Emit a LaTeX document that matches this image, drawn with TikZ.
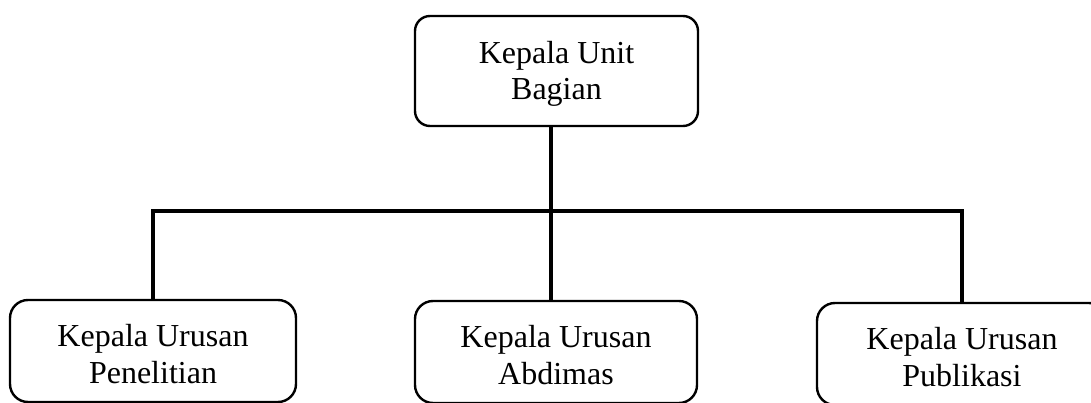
\documentclass[tikz,border=0pt]{standalone}
\usepackage{fontspec}
\setmainfont{Liberation Serif}
\begin{document}
\begin{tikzpicture}[x=1pt,y=-1pt,
  unitbox/.style={draw,line width=2.4pt,rounded corners=18pt,align=center,
    inner sep=0pt,font=\fontsize{32}{36.5}\selectfont,
    text height=64pt,text depth=0pt},
  link/.style={line width=4pt}]
  \clip (0,0) rectangle (1091,403);
  % head of the unit
  \node[unitbox,rounded corners=15pt,minimum width=283pt,minimum height=110pt,text height=58pt]
    (head) at (556.5,71) {Kepala Unit\\Bagian};
  % three sections
  \node[unitbox,minimum width=286pt,minimum height=102pt]
    (riset) at (153,351) {Kepala Urusan\\Penelitian};
  \node[unitbox,minimum width=282pt,minimum height=102pt]
    (abdimas) at (556,352) {Kepala Urusan\\Abdimas};
  \node[unitbox,minimum width=290pt,minimum height=102pt]
    (publik) at (962,354) {Kepala Urusan\\Publikasi};
  % connectors
  \coordinate (bar) at (551,211);
  \draw[link] (head.south -| bar) -- (abdimas.north -| bar);
  \draw[link] (riset.north) -- (riset.north |- bar) -- (publik.north |- bar) -- (publik.north);
\end{tikzpicture}
\end{document}
